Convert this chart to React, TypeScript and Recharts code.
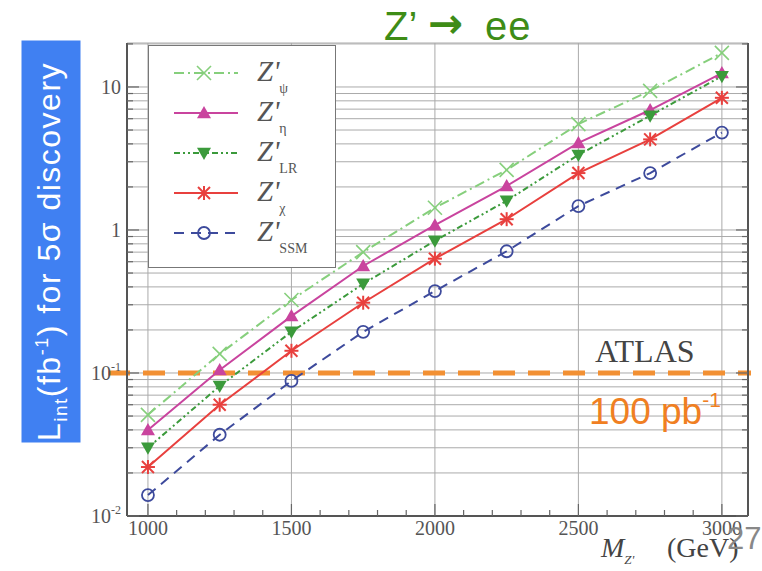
import React from 'react';
import { LineChart, Line, XAxis, YAxis, CartesianGrid, ReferenceLine, Legend } from 'recharts';

// Z' masses (GeV)
const masses = [1000, 1250, 1500, 1750, 2000, 2250, 2500, 2750, 3000];

// integrated luminosity (fb^-1) needed for 5 sigma discovery
const zPsi = [0.051, 0.136, 0.324, 0.7, 1.43, 2.63, 5.5, 9.4, 17.3];
const zEta = [0.04, 0.105, 0.25, 0.56, 1.08, 2.03, 4.06, 6.9, 12.5];
const zLR = [0.03, 0.081, 0.194, 0.42, 0.84, 1.6, 3.35, 6.3, 11.9];
const zChi = [0.022, 0.06, 0.143, 0.31, 0.63, 1.19, 2.5, 4.3, 8.4];
const zSSM = [0.014, 0.037, 0.088, 0.194, 0.374, 0.71, 1.47, 2.5, 4.8];

const atlasLumi = 0.1; // 100 pb^-1

const xMajor = [1000, 1500, 2000, 2500, 3000];
const xTicks = [1000, 1100, 1200, 1300, 1400, 1500, 1600, 1700, 1800, 1900, 2000,
  2100, 2200, 2300, 2400, 2500, 2600, 2700, 2800, 2900, 3000];
const yMajor = [0.01, 0.1, 1, 10];
const yTicks = [0.01, 0.02, 0.03, 0.04, 0.05, 0.06, 0.07, 0.08, 0.09,
  0.1, 0.2, 0.3, 0.4, 0.5, 0.6, 0.7, 0.8, 0.9,
  1, 2, 3, 4, 5, 6, 7, 8, 9, 10, 20];
const yLabels: Record<string, [string, string]> = {
  '0.01': ['10', '-2'],
  '0.1': ['10', '-1'],
  '1': ['1', ''],
  '10': ['10', ''],
};

const X_MIN = 927;
const X_MAX = 3091;

const series = [
  { key: 'psi', name: 'ψ', color: '#86cf7c', dash: '10 4 2 4', marker: 'cross', values: zPsi },
  { key: 'eta', name: 'η', color: '#c9449e', dash: undefined, marker: 'up', values: zEta },
  { key: 'lr', name: 'LR', color: '#3b9a3b', dash: '6 3 2 3 2 3', marker: 'down', values: zLR },
  { key: 'chi', name: 'χ', color: '#e8403e', dash: undefined, marker: 'star', values: zChi },
  { key: 'ssm', name: 'SSM', color: '#3d4a9c', dash: '10 7', marker: 'circle', values: zSSM },
];

const data = masses.map((m, i) => ({
  mass: m,
  psi: zPsi[i],
  eta: zEta[i],
  lr: zLR[i],
  chi: zChi[i],
  ssm: zSSM[i],
}));

const serif = '"Liberation Serif", "DejaVu Serif", serif';
const sans = '"Liberation Sans", Arial, "DejaVu Sans", sans-serif';

const Marker = ({ type, cx, cy, color }: any) => {
  if (cx == null || cy == null) return null;
  const s = 7;
  switch (type) {
    case 'cross':
      return (
        <g stroke={color} strokeWidth={1.6}>
          <line x1={cx - s} y1={cy - s} x2={cx + s} y2={cy + s} />
          <line x1={cx - s} y1={cy + s} x2={cx + s} y2={cy - s} />
        </g>
      );
    case 'up':
      return <polygon points={`${cx},${cy - s} ${cx - s},${cy + s * 0.75} ${cx + s},${cy + s * 0.75}`} fill={color} />;
    case 'down':
      return <polygon points={`${cx},${cy + s} ${cx - s},${cy - s * 0.75} ${cx + s},${cy - s * 0.75}`} fill={color} />;
    case 'star':
      return (
        <g stroke={color} strokeWidth={2}>
          <line x1={cx - 6} y1={cy - 6} x2={cx + 6} y2={cy + 6} />
          <line x1={cx - 6} y1={cy + 6} x2={cx + 6} y2={cy - 6} />
          <line x1={cx} y1={cy - 7} x2={cx} y2={cy + 7} />
          <line x1={cx - 7} y1={cy} x2={cx + 7} y2={cy} />
        </g>
      );
    default:
      return <circle cx={cx} cy={cy} r={6} fill="none" stroke={color} strokeWidth={1.8} />;
  }
};

const YTick = (props: any) => {
  const { x, y, payload } = props;
  const v = payload.value;
  const major = yMajor.includes(v);
  const lab = yLabels[String(v)];
  return (
    <g>
      <line x1={x} x2={x + (major ? 12 : 6)} y1={y} y2={y} stroke="#666" strokeWidth={1.2} />
      {lab && (
        <text x={x - 6} y={y + 7} textAnchor="end" fontFamily={serif} fontSize={20} fill="#555">
          {lab[0]}
          {lab[1] && <tspan fontSize={12} dy={-9}>{lab[1]}</tspan>}
        </text>
      )}
    </g>
  );
};

const RightTick = (props: any) => {
  const { x, y, payload } = props;
  const major = yMajor.includes(payload.value);
  return <line x1={x} x2={x - (major ? 12 : 6)} y1={y} y2={y} stroke="#666" strokeWidth={1.2} />;
};

const XTick = (props: any) => {
  const { x, y, payload } = props;
  const major = xMajor.includes(payload.value);
  return (
    <g>
      <line x1={x} x2={x} y1={y} y2={y - (major ? 12 : 6)} stroke="#666" strokeWidth={1.2} />
      {major && (
        <text x={x} y={y + 19} textAnchor="middle" fontFamily={serif} fontSize={20} fill="#555">
          {payload.value}
        </text>
      )}
    </g>
  );
};

const LegendBox = () => (
  <div
    style={{
      width: 188,
      height: 223,
      border: '1.5px solid #777',
      background: '#fff',
      boxSizing: 'border-box',
      position: 'relative',
    }}
  >
    {series.map((s, i) => (
      <div key={s.key} style={{ position: 'absolute', left: 0, top: 11 + i * 40, height: 32, width: 186 }}>
        <svg width={100} height={32} style={{ position: 'absolute', left: 0, top: 0 }}>
          <line x1={25} x2={89} y1={16} y2={16} stroke={s.color} strokeWidth={2} strokeDasharray={s.dash} />
          <Marker type={s.marker} cx={55} cy={16} color={s.color} />
        </svg>
        <div
          style={{
            position: 'absolute',
            left: 108,
            top: -2,
            fontFamily: serif,
            fontSize: 29,
            fontStyle: 'italic',
            color: '#555',
            whiteSpace: 'nowrap',
            lineHeight: '32px',
          }}
        >
          Z'
          <span style={{ fontSize: 14, fontStyle: 'normal', position: 'relative', top: 12 }}>{s.name}</span>
        </div>
      </div>
    ))}
  </div>
);

const AtlasLine = (props: any) => {
  const { x1, x2, y1 } = props;
  return (
    <line x1={x1 - 19} x2={x2 + 3} y1={y1} y2={y1} stroke="#f29033" strokeWidth={5} strokeDasharray="22 13" />
  );
};

const App: React.FC = () => {
  return (
    <div style={{ position: 'absolute', left: 0, top: 0, width: 762, height: 571, background: '#fff', overflow: 'hidden' }}>
      <LineChart width={762} height={571} data={data} margin={{ top: 43, right: 12, bottom: 25, left: 0 }}>
        <CartesianGrid horizontal vertical={false} stroke="#aaa" strokeWidth={1} />
        {xMajor.map(v => (
          <ReferenceLine key={v} x={v} stroke="#aaa" strokeWidth={1} />
        ))}
        <XAxis
          dataKey="mass"
          type="number"
          domain={[X_MIN, X_MAX]}
          ticks={xTicks}
          interval={0}
          allowDataOverflow
          tick={<XTick />}
          tickLine={false}
          tickSize={0}
          tickMargin={0}
          height={30}
          axisLine={{ stroke: '#555', strokeWidth: 2 }}
        />
        <YAxis
          scale="log"
          domain={[0.01, 20.3]}
          ticks={yTicks}
          interval={0}
          allowDataOverflow
          tick={<YTick />}
          tickLine={false}
          tickSize={0}
          tickMargin={0}
          width={127}
          axisLine={{ stroke: '#555', strokeWidth: 2 }}
        />
        <YAxis
          yAxisId="right"
          orientation="right"
          scale="log"
          domain={[0.01, 20.3]}
          ticks={yTicks}
          interval={0}
          allowDataOverflow
          tick={<RightTick />}
          tickLine={false}
          tickSize={0}
          tickMargin={0}
          width={2}
          axisLine={{ stroke: '#555', strokeWidth: 2 }}
        />
        <ReferenceLine y={atlasLumi} shape={<AtlasLine />} />
        {series.map(s => (
          <Line
            key={s.key}
            dataKey={s.key}
            name={s.name}
            type="linear"
            stroke={s.color}
            strokeWidth={2}
            strokeDasharray={s.dash}
            isAnimationActive={false}
            dot={(p: any) => <Marker key={`${s.key}-${p.index}`} type={s.marker} cx={p.cx} cy={p.cy} color={s.color} />}
          />
        ))}
        <Legend
          layout="vertical"
          align="center"
          verticalAlign="middle"
          content={<LegendBox />}
          wrapperStyle={{ left: 148, top: 45, width: 188, height: 223 }}
        />
      </LineChart>

      {/* title */}
      <div style={{ position: 'absolute', left: 384, top: 6, fontFamily: sans, fontSize: 40, color: '#3e8c16', lineHeight: 1 }}>
        Z’
      </div>
      <div style={{ position: 'absolute', left: 428, top: 3, fontFamily: '"DejaVu Sans", sans-serif', fontWeight: 'bold', fontSize: 42, color: '#3e8c16', lineHeight: 1 }}>
        →
      </div>
      <div style={{ position: 'absolute', left: 485, top: 6, fontFamily: sans, fontSize: 40, letterSpacing: 1, color: '#3e8c16', lineHeight: 1 }}>
        ee
      </div>

      {/* blue y-axis label box */}
      <div
        style={{
          position: 'absolute',
          left: 51 - 201,
          top: 241 - 29,
          width: 402,
          height: 59,
          background: '#4080f2',
          transform: 'rotate(-90deg)',
          display: 'flex',
          alignItems: 'center',
          justifyContent: 'center',
          paddingRight: 20,
          boxSizing: 'border-box',
          color: '#fff',
          fontFamily: sans,
          fontSize: 32,
          letterSpacing: 1.5,
          whiteSpace: 'nowrap',
        }}
      >
        <span>
          L<sub style={{ fontSize: 19 }}>int</sub>(fb<sup style={{ fontSize: 18 }}>-1</sup>) for 5σ discovery
        </span>
      </div>

      {/* ATLAS annotation */}
      <div style={{ position: 'absolute', left: 595, top: 335, fontFamily: serif, fontSize: 32, color: '#444', lineHeight: 1 }}>
        ATLAS
      </div>
      <div style={{ position: 'absolute', left: 589, top: 393, fontFamily: sans, fontSize: 37, color: '#f07f22', lineHeight: 1, whiteSpace: 'nowrap' }}>
        100 pb<sup style={{ fontSize: 21, verticalAlign: 'top', position: 'relative', top: -4 }}>-1</sup>
      </div>

      {/* x-axis label */}
      <div style={{ position: 'absolute', left: 601, top: 534, fontFamily: serif, fontSize: 28, color: '#444', lineHeight: 1, whiteSpace: 'nowrap' }}>
        <i>M</i>
        <sub style={{ fontSize: 13 }}><i>Z'</i></sub>
      </div>
      <div style={{ position: 'absolute', left: 667, top: 534, fontFamily: serif, fontSize: 28, color: '#444', lineHeight: 1, whiteSpace: 'nowrap' }}>
        (GeV)
      </div>

      {/* slide page number */}
      <div style={{ position: 'absolute', left: 727, top: 523, fontFamily: sans, fontSize: 31, color: '#888', lineHeight: 1 }}>
        27
      </div>
    </div>
  );
};

export default App;
